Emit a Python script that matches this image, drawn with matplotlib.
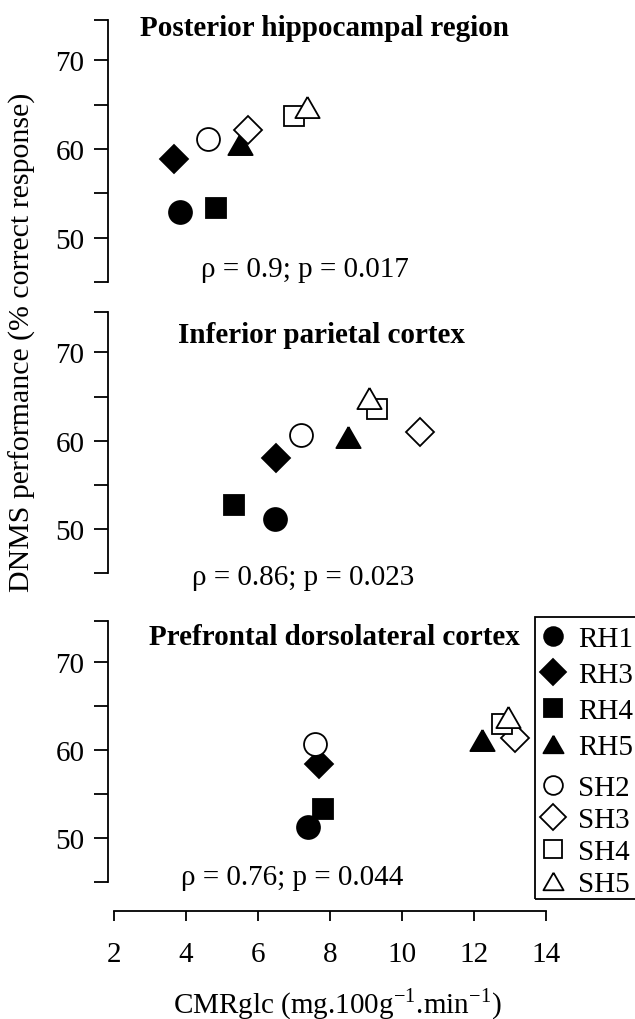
import matplotlib
matplotlib.use("Agg")
import matplotlib.pyplot as plt
from matplotlib.lines import Line2D
from matplotlib.patches import Rectangle

plt.rcParams['font.family'] = ['Liberation Serif', 'DejaVu Serif']
plt.rcParams['mathtext.fontset'] = 'custom'
plt.rcParams['mathtext.rm'] = 'Liberation Serif'

subjects = ['RH1', 'RH3', 'RH4', 'RH5', 'SH2', 'SH3', 'SH4', 'SH5']
shapes = ['o', 'D', 's', 'tri', 'o', 'D', 's', 'tri']
filled = [True, True, True, True, False, False, False, False]

regions = ['Posterior hippocampal region', 'Inferior parietal cortex',
           'Prefrontal dorsolateral cortex']
stats = ['ρ = 0.9; p = 0.017', 'ρ = 0.86; p = 0.023', 'ρ = 0.76; p = 0.044']

cmr_hipp = [3.82, 3.67, 4.83, 5.49, 4.62, 5.72, 7.01, 7.35]
dnms_hipp = [52.9, 58.9, 53.3, 60.6, 61.1, 62.1, 63.7, 64.7]
cmr_par = [6.48, 6.50, 5.32, 8.50, 7.19, 10.51, 9.30, 9.07]
dnms_par = [51.2, 58.1, 52.7, 60.4, 60.7, 61.0, 63.6, 64.8]
cmr_pfc = [7.40, 7.68, 7.80, 12.22, 7.58, 13.14, 12.78, 12.94]
dnms_pfc = [51.3, 58.4, 53.3, 61.1, 60.7, 61.4, 62.9, 63.8]

xs = [cmr_hipp, cmr_par, cmr_pfc]
ys = [dnms_hipp, dnms_par, dnms_pfc]

xticks = [2, 4, 6, 8, 10, 12, 14]
yticks = [50, 60, 70]
yminor = [45, 55, 65, 74.6]

# equilateral-ish triangle marker (wider than tall)
TRI = [(0, 0.87), (-1, -0.87), (1, -0.87), (0, 0.87)]
def mk(s):
    return TRI if s == 'tri' else s

W, H = 635, 1020
fig = plt.figure(figsize=(W / 100, H / 100), dpi=100)

FS = 21
msizes = {'o': 16.5, 'D': 14.5, 's': 15, 'tri': 17.5}

# axes placement in pixels: (top, bottom)
panels = [(20.7, 283.0), (312.7, 574.3), (622.3, 883.3)]
left_px, right_px = 108, 582
title_pos = [(324, 36), (321, 343), (334, 645)]
stat_pos = [(305, 277), (303, 585), (292, 885)]

for i, (tp, bp) in enumerate(panels):
    ax = fig.add_axes([left_px / W, 1 - bp / H, (right_px - left_px) / W, (bp - tp) / H])
    for j in range(len(subjects)):
        s = shapes[j]
        ax.plot(xs[i][j], ys[i][j], linestyle='none', marker=mk(s), markersize=msizes[s],
                markerfacecolor='black' if filled[j] else 'white',
                markeredgecolor='black', markeredgewidth=1.3, clip_on=False)
    ax.set_xlim(1.83, 15.0)
    ax.set_ylim(45, 74.6)
    ax.spines['top'].set_visible(False)
    ax.spines['right'].set_visible(False)
    ax.spines['left'].set_linewidth(1.3)
    ax.spines['left'].set_bounds(45, 74.6)
    ax.set_yticks(yticks)
    ax.set_yticks(yminor, minor=True)
    ax.tick_params(axis='y', which='both', direction='out', length=10, width=1.3,
                   labelsize=FS, pad=7)
    if i < 2:
        ax.spines['bottom'].set_visible(False)
        ax.set_xticks([])
    else:
        ax.spines['bottom'].set_position(('outward', 20.4))
        ax.spines['bottom'].set_bounds(2, 14)
        ax.spines['bottom'].set_linewidth(1.3)
        ax.set_xticks(xticks)
        ax.tick_params(axis='x', direction='out', length=7.2, width=1.3,
                       labelsize=FS, pad=14.5)
    fig.text(title_pos[i][0] / W, 1 - title_pos[i][1] / H, regions[i],
             ha='center', va='baseline', fontsize=21, fontweight='bold')
    fig.text(stat_pos[i][0] / W, 1 - stat_pos[i][1] / H, stats[i],
             ha='center', va='baseline', fontsize=FS)

fig.text(22 / W, 1 - 342 / H, 'DNMS performance (% correct response)', rotation=90,
         ha='center', va='center', fontsize=21.5)
fig.text(337 / W, 1 - 1013 / H, r'CMRglc (mg.100g$^{\mathregular{-1}}$.min$^{\mathregular{-1}}$)',
         ha='center', va='baseline', fontsize=FS)

# legend (manual)
fig.patches.append(Rectangle((535 / W, 1 - 900 / H), 140 / W, 282 / H,
                             transform=fig.transFigure, fill=False,
                             edgecolor='black', linewidth=1.3, clip_on=False))
leg_y = [637, 673, 709, 745, 786, 818, 850, 882]
leg_ms = {'o': 13.5, 'D': 13.5, 's': 12.5, 'tri': 14.5}
for j in range(len(subjects)):
    s = shapes[j]
    fig.add_artist(Line2D([553 / W], [1 - leg_y[j] / H], transform=fig.transFigure,
                          marker=mk(s), markersize=leg_ms[s], linestyle='none',
                          markerfacecolor='black' if filled[j] else 'white',
                          markeredgecolor='black', markeredgewidth=1.3))
    fig.text(578 / W, 1 - leg_y[j] / H, subjects[j], ha='left', va='center_baseline',
             fontsize=FS)

fig.savefig('out.png', dpi=100)
